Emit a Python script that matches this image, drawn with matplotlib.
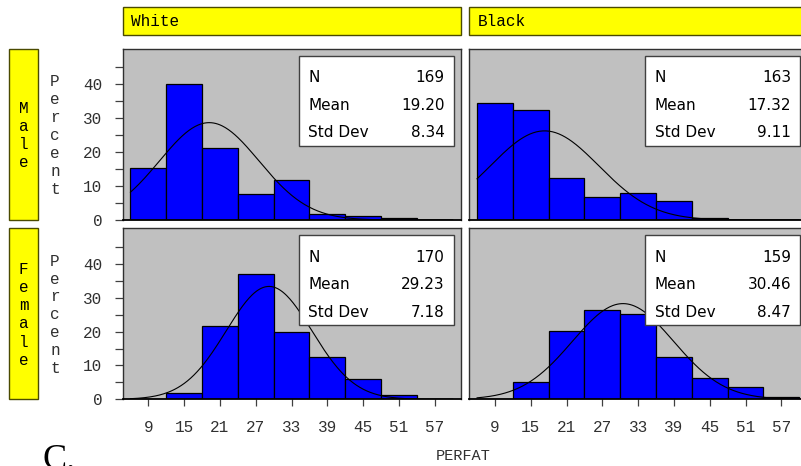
import numpy as np
import matplotlib
matplotlib.use("Agg")
import matplotlib.pyplot as plt
from matplotlib.patches import Rectangle

# ---- data -------------------------------------------------------------
bin_mids = [9, 15, 21, 27, 33, 39, 45, 51, 57]
bin_width = 6

pct_male_white = [15.38, 40.24, 21.30, 7.69, 11.83, 1.78, 1.18, 0.59, 0.0]
pct_male_black = [34.36, 32.52, 12.27, 6.75, 7.98, 5.52, 0.61, 0.0, 0.0]
pct_female_white = [0.0, 1.76, 21.76, 37.06, 20.00, 12.35, 5.88, 1.18, 0.0]
pct_female_black = [0.0, 5.03, 20.13, 26.42, 25.16, 12.58, 6.29, 3.77, 0.63]

n_obs = {"mw": 169, "mb": 163, "fw": 170, "fb": 159}
means = {"mw": 19.20, "mb": 17.32, "fw": 29.23, "fb": 30.46}
sds = {"mw": 8.34, "mb": 9.11, "fw": 7.18, "fb": 8.47}

col_labels = ["White", "Black"]
row_labels = ["Male", "Female"]
y_label = "Percent"
x_label = "PERFAT"
y_ticks = [0, 5, 10, 15, 20, 25, 30, 35, 40, 45]
x_ticks = bin_mids

# ---- figure -----------------------------------------------------------
W, H = 801, 466
fig = plt.figure(figsize=(W / 100, H / 100), dpi=100)
fig.patch.set_facecolor("white")

MONO = "Liberation Mono"
SANS = "DejaVu Sans"
YELLOW = "#ffff00"
HEAD_EDGE = "#4a4a00"
PANEL_BG = "#c0c0c0"
FRAME = "#303030"


def fx(px):
    return px / W


def fy(py):
    return 1 - py / H


def fig_rect(x0, y0, x1, y1, **kw):
    r = Rectangle((fx(x0), fy(y1)), (x1 - x0) / W, (y1 - y0) / H,
                  transform=fig.transFigure, **kw)
    fig.add_artist(r)


cols_px = [(122.7, 461.0), (469.3, 807.6)]
rows_px = [(48.7, 220.0), (228.3, 399.3)]

panels = {
    (0, 0): ("mw", pct_male_white),
    (0, 1): ("mb", pct_male_black),
    (1, 0): ("fw", pct_female_white),
    (1, 1): ("fb", pct_female_black),
}

xs = np.linspace(6, 60, 300)

for (r, c), (key, pct) in panels.items():
    x0, x1 = cols_px[c]
    y0, y1 = rows_px[r]
    ax = fig.add_axes([fx(x0), fy(y1), (x1 - x0) / W, (y1 - y0) / H])
    ax.set_facecolor(PANEL_BG)
    ax.bar(bin_mids, pct, width=bin_width, color="#0000ff",
           edgecolor="black", linewidth=0.9, zorder=2)
    mu, sd = means[key], sds[key]
    curve = 100 * bin_width * np.exp(-0.5 * ((xs - mu) / sd) ** 2) / (sd * np.sqrt(2 * np.pi))
    ax.plot(xs, curve, color="black", linewidth=0.8, zorder=3)
    ax.set_xlim(4.7, 61.4)
    ax.set_ylim(0, 50.5)

    for side in ("top", "left", "right"):
        ax.spines[side].set_color(FRAME)
        ax.spines[side].set_linewidth(1.0)
    ax.spines["bottom"].set_color("black")
    ax.spines["bottom"].set_linewidth(1.3)

    if c == 0:
        ax.set_yticks(y_ticks)
        ax.set_yticklabels([str(t) if t % 10 == 0 else "" for t in y_ticks],
                           fontfamily=MONO, fontsize=11.5, color="#303030")
        ax.tick_params(axis="y", direction="out", length=5.5, width=0.9,
                       color="#404040", pad=9)
    else:
        ax.set_yticks([])

    if r == 1:
        ax.set_xticks(x_ticks)
        ax.set_xticklabels([str(t) for t in x_ticks], fontfamily=MONO,
                           fontsize=11.5, color="#303030")
        ax.tick_params(axis="x", direction="out", length=5, width=0.9,
                       color="#404040", pad=10)
    else:
        ax.set_xticks([])

    # summary statistics inset
    ax.add_patch(Rectangle((0.520, 0.434), 0.459, 0.525, transform=ax.transAxes,
                           facecolor="white", edgecolor="#404040",
                           linewidth=1.0, zorder=5))
    stats = [("N", f"{n_obs[key]}"), ("Mean", f"{mu:.2f}"), ("Std Dev", f"{sd:.2f}")]
    for i, (lab, val) in enumerate(stats):
        yy = 0.831 - i * 0.161
        ax.text(0.548, yy, lab, transform=ax.transAxes, ha="left", va="center",
                fontfamily=SANS, fontsize=11, color="black", zorder=6)
        ax.text(0.951, yy, val, transform=ax.transAxes, ha="right", va="center",
                fontfamily=SANS, fontsize=11, color="black", zorder=6)

# column headers
for c, lab in enumerate(col_labels):
    x0, x1 = cols_px[c]
    fig_rect(x0, 6.7, x1, 35.0, facecolor=YELLOW, edgecolor=HEAD_EDGE, linewidth=1.0)
    fig.text(fx(x0 + 8), fy(21), lab, fontfamily=MONO, fontsize=11.5,
             ha="left", va="center", color="black")

# row headers and stacked y-axis titles
step = 18.2
for r, lab in enumerate(row_labels):
    y0, y1 = rows_px[r]
    fig_rect(8.7, y0, 38.3, y1, facecolor=YELLOW, edgecolor=HEAD_EDGE, linewidth=1.0)
    yc = (y0 + y1) / 2 + 1
    n = len(lab)
    for i, ch in enumerate(lab):
        fig.text(fx(23.5), fy(yc + (i - (n - 1) / 2) * step), ch, fontfamily=MONO,
                 fontsize=11.5, ha="center", va="center", color="black")
    n = len(y_label)
    for i, ch in enumerate(y_label):
        fig.text(fx(55), fy(yc + (i - (n - 1) / 2) * 17.9), ch, fontfamily=MONO,
                 fontsize=11.5, ha="center", va="center", color="#303030")

# x-axis title
fig.text(fx(463), fy(456), x_label, fontfamily=MONO, fontsize=11,
         ha="center", va="center", color="#303030")

# panel letter
fig.text(fx(43), fy(469), "C.", fontfamily="Liberation Serif", fontsize=26,
         ha="left", va="baseline", color="black")

fig.savefig("out.png", dpi=100, facecolor="white")
